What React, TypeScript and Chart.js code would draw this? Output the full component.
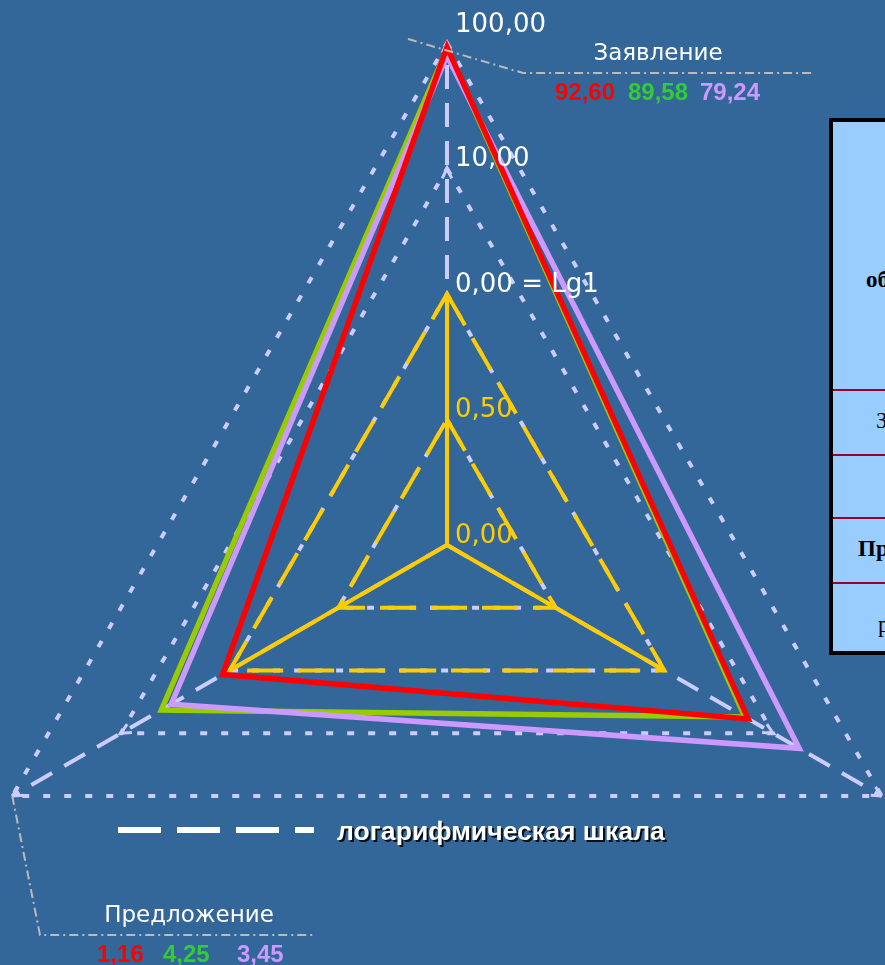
import { useEffect, useRef } from "react";
import { Chart, registerables } from "chart.js";

Chart.register(...registerables);

// ---- data ----
const categories = ["Заявление", "Сделки", "Предложение"];
const seriesNames = ["Серия 1", "Серия 2", "Серия 3"];
const redValues = [92.6, 5.9, 1.16];
const greenValues = [89.58, 5.5, 4.25];
const violetValues = [79.24, 17.4, 3.45];
const tickValues = [0, 0.5, 1, 10, 100];
const tickLabels = ["0,00", "0,50", "0,00 = Lg1", "10,00", "100,00"];
const legendLabel = "логарифмическая шкала";
const tableTexts = ["объекты", "Заявление", "", "Предложение", "руб."];

// ---- styles ----
const BG = "#336699";
const RED = "#FF0000";
const GREEN_LINE = "#99CC00";
const GREEN_TEXT = "#33CC33";
const VIOLET = "#CC99FF";
const LAV = "#CCCCFF";
const YELLOW = "#FFCC00";
const CANVAS_LEFT = -55;
const CANVAS_W = 1004;
const CANVAS_H = 1100;

// 0..1 linear (0 -> 0, 0.5 -> 1, 1 -> 2), above 1 logarithmic (10 -> 3, 100 -> 4)
const toScale = (v: number) => (v <= 1 ? 2 * v : 2 + Math.log10(v));
const fmt = (v: number) => v.toFixed(2).replace(".", ",");

const X = (pageX: number) => pageX - CANVAS_LEFT;

const overlay = {
  id: "overlay",
  beforeDatasetsDraw(chart: any) {
    const r = chart.scales.r;
    const ctx: CanvasRenderingContext2D = chart.ctx;
    const n = chart.data.labels.length;
    ctx.save();
    // yellow dashed triangles at 0.5 and 1
    ctx.strokeStyle = YELLOW;
    ctx.lineWidth = 4;
    ctx.setLineDash([36, 15]);
    for (const v of [tickValues[1], tickValues[2]]) {
      ctx.beginPath();
      for (let i = 0; i < n; i++) {
        const p = r.getPointPositionForValue(i, toScale(v));
        if (i === 0) ctx.moveTo(p.x, p.y);
        else ctx.lineTo(p.x, p.y);
      }
      ctx.closePath();
      ctx.stroke();
    }
    // yellow solid axes up to 1
    ctx.setLineDash([]);
    ctx.beginPath();
    for (let i = 0; i < n; i++) {
      const p = r.getPointPositionForValue(i, toScale(tickValues[2]));
      ctx.moveTo(r.xCenter, r.yCenter);
      ctx.lineTo(p.x, p.y);
    }
    ctx.stroke();
    // arrowheads on log axes
    ctx.strokeStyle = LAV;
    ctx.lineWidth = 3;
    ctx.beginPath();
    for (let i = 0; i < n; i++) {
      for (const v of [tickValues[3], tickValues[4]]) {
        const p = r.getPointPositionForValue(i, toScale(v));
        const dx = p.x - r.xCenter;
        const dy = p.y - r.yCenter;
        const len = Math.hypot(dx, dy);
        const ux = dx / len;
        const uy = dy / len;
        const a = Math.PI / 7;
        for (const sg of [-1, 1]) {
          const c = Math.cos(sg * a);
          const s = Math.sin(sg * a);
          const bx = -(ux * c - uy * s);
          const by = -(ux * s + uy * c);
          ctx.moveTo(p.x, p.y);
          ctx.lineTo(p.x + bx * 11, p.y + by * 11);
        }
      }
    }
    ctx.stroke();
    ctx.restore();
  },
  afterDraw(chart: any) {
    const r = chart.scales.r;
    const ctx: CanvasRenderingContext2D = chart.ctx;
    ctx.save();
    // tick labels
    ctx.font = '26px "DejaVu Sans"';
    ctx.textBaseline = "middle";
    ctx.textAlign = "left";
    tickLabels.forEach((t, i) => {
      const p = r.getPointPositionForValue(0, toScale(tickValues[i]));
      ctx.fillStyle = i < 2 ? YELLOW : "#FFFFFF";
      const off = i === tickLabels.length - 1 ? -18 : -9;
      ctx.fillText(t, p.x + 8, p.y + off);
    });

    // callout lines
    ctx.strokeStyle = "#BBBBBB";
    ctx.lineWidth = 2;
    ctx.setLineDash([9, 4, 2, 4]);
    const top = r.getPointPositionForValue(0, 4);
    ctx.beginPath();
    ctx.moveTo(top.x - 39, top.y - 4);
    ctx.lineTo(X(523), 73);
    ctx.lineTo(X(813), 73);
    ctx.stroke();
    const bl = r.getPointPositionForValue(2, 4);
    ctx.beginPath();
    ctx.moveTo(bl.x, bl.y);
    ctx.lineTo(X(40), 935);
    ctx.lineTo(X(315), 935);
    ctx.stroke();
    ctx.setLineDash([]);

    // category labels
    ctx.fillStyle = "#FFFFFF";
    ctx.textAlign = "center";
    ctx.font = '23px "DejaVu Sans"';
    ctx.fillText(chart.data.labels[0], X(658), 54);
    ctx.fillText(chart.data.labels[2], X(189), 916);

    // value labels
    ctx.textAlign = "left";
    ctx.font = 'bold 24px "Liberation Sans"';
    const cols = [RED, GREEN_TEXT, VIOLET];
    const series = [redValues, greenValues, violetValues];
    const topX = [555, 628, 700];
    const botX = [97, 163, 237];
    series.forEach((s, k) => {
      ctx.fillStyle = cols[k];
      ctx.fillText(fmt(s[0]), X(topX[k]), 93);
      ctx.fillText(fmt(s[2]), X(botX[k]), 955);
    });

    // legend
    ctx.strokeStyle = "#FFFFFF";
    ctx.lineWidth = 6;
    ctx.setLineDash([43, 16]);
    ctx.beginPath();
    ctx.moveTo(X(118), 830);
    ctx.lineTo(X(314), 830);
    ctx.stroke();
    ctx.setLineDash([]);
    ctx.font = 'bold 26.6px "Liberation Sans"';
    ctx.shadowColor = "rgba(0,0,0,0.85)";
    ctx.shadowOffsetX = 2;
    ctx.shadowOffsetY = 2;
    ctx.shadowBlur = 0;
    ctx.fillStyle = "#FFFFFF";
    ctx.fillText(legendLabel, X(337), 833);
    ctx.restore();
  },
};

export default function App() {
  const ref = useRef<HTMLCanvasElement>(null);
  useEffect(() => {
    document.body.style.margin = "0";
    const chart = new Chart(ref.current as HTMLCanvasElement, {
      type: "radar",
      data: {
        labels: categories,
        datasets: [
          { label: seriesNames[0], data: redValues.map(toScale), borderColor: RED, order: 0 },
          { label: seriesNames[1], data: greenValues.map(toScale), borderColor: GREEN_LINE, order: 2 },
          { label: seriesNames[2], data: violetValues.map(toScale), borderColor: VIOLET, order: 1 },
        ],
      },
      options: {
        responsive: false,
        animation: false,
        layout: { padding: { top: 43, bottom: 53, left: 0, right: 0 } },
        plugins: { legend: { display: false }, tooltip: { enabled: false } },
        elements: {
          line: { borderWidth: 5.5, tension: 0, fill: false, borderJoinStyle: "miter" },
          point: { radius: 0, hoverRadius: 0 },
        },
        scales: {
          r: {
            min: 0,
            max: 4,
            ticks: { display: false, stepSize: 1 },
            pointLabels: { display: false },
            grid: { color: LAV, lineWidth: 4, borderDash: [7, 14] },
            border: { dash: [7, 14] },
            angleLines: { color: LAV, lineWidth: 4, borderDash: [24, 14] },
          },
        },
      } as any,
      plugins: [overlay],
    });
    return () => chart.destroy();
  }, []);

  const rowLines = [390, 455, 518, 583];
  const textPos = [
    { x: 866, y: 280, bold: true },
    { x: 876, y: 421, bold: false },
    { x: 876, y: 487, bold: false },
    { x: 858, y: 549, bold: true },
    { x: 878, y: 625, bold: false },
  ];

  return (
    <div
      style={{
        position: "fixed",
        left: 0,
        top: 0,
        width: 885,
        height: 965,
        overflow: "hidden",
        background: BG,
      }}
    >
      <canvas
        ref={ref}
        width={CANVAS_W}
        height={CANVAS_H}
        style={{ position: "absolute", left: CANVAS_LEFT, top: 0, width: CANVAS_W, height: CANVAS_H }}
      />
      <div
        style={{
          position: "absolute",
          left: 829,
          top: 118,
          width: 300,
          height: 537,
          boxSizing: "border-box",
          border: "4px solid #000",
          background: "#99CCFF",
          zIndex: 2,
        }}
      />
      {rowLines.map((y) => (
        <div
          key={y}
          style={{ position: "absolute", left: 833, top: y - 1, width: 300, height: 2, background: "#990033", zIndex: 3 }}
        />
      ))}
      {tableTexts.map((t, i) => (
        <div
          key={i}
          style={{
            position: "absolute",
            left: textPos[i].x,
            top: textPos[i].y - 13,
            whiteSpace: "nowrap",
            fontFamily: '"Liberation Serif", serif',
            fontSize: 23,
            lineHeight: "26px",
            fontWeight: textPos[i].bold ? "bold" : "normal",
            color: "#000",
            zIndex: 3,
          }}
        >
          {t}
        </div>
      ))}
    </div>
  );
}
